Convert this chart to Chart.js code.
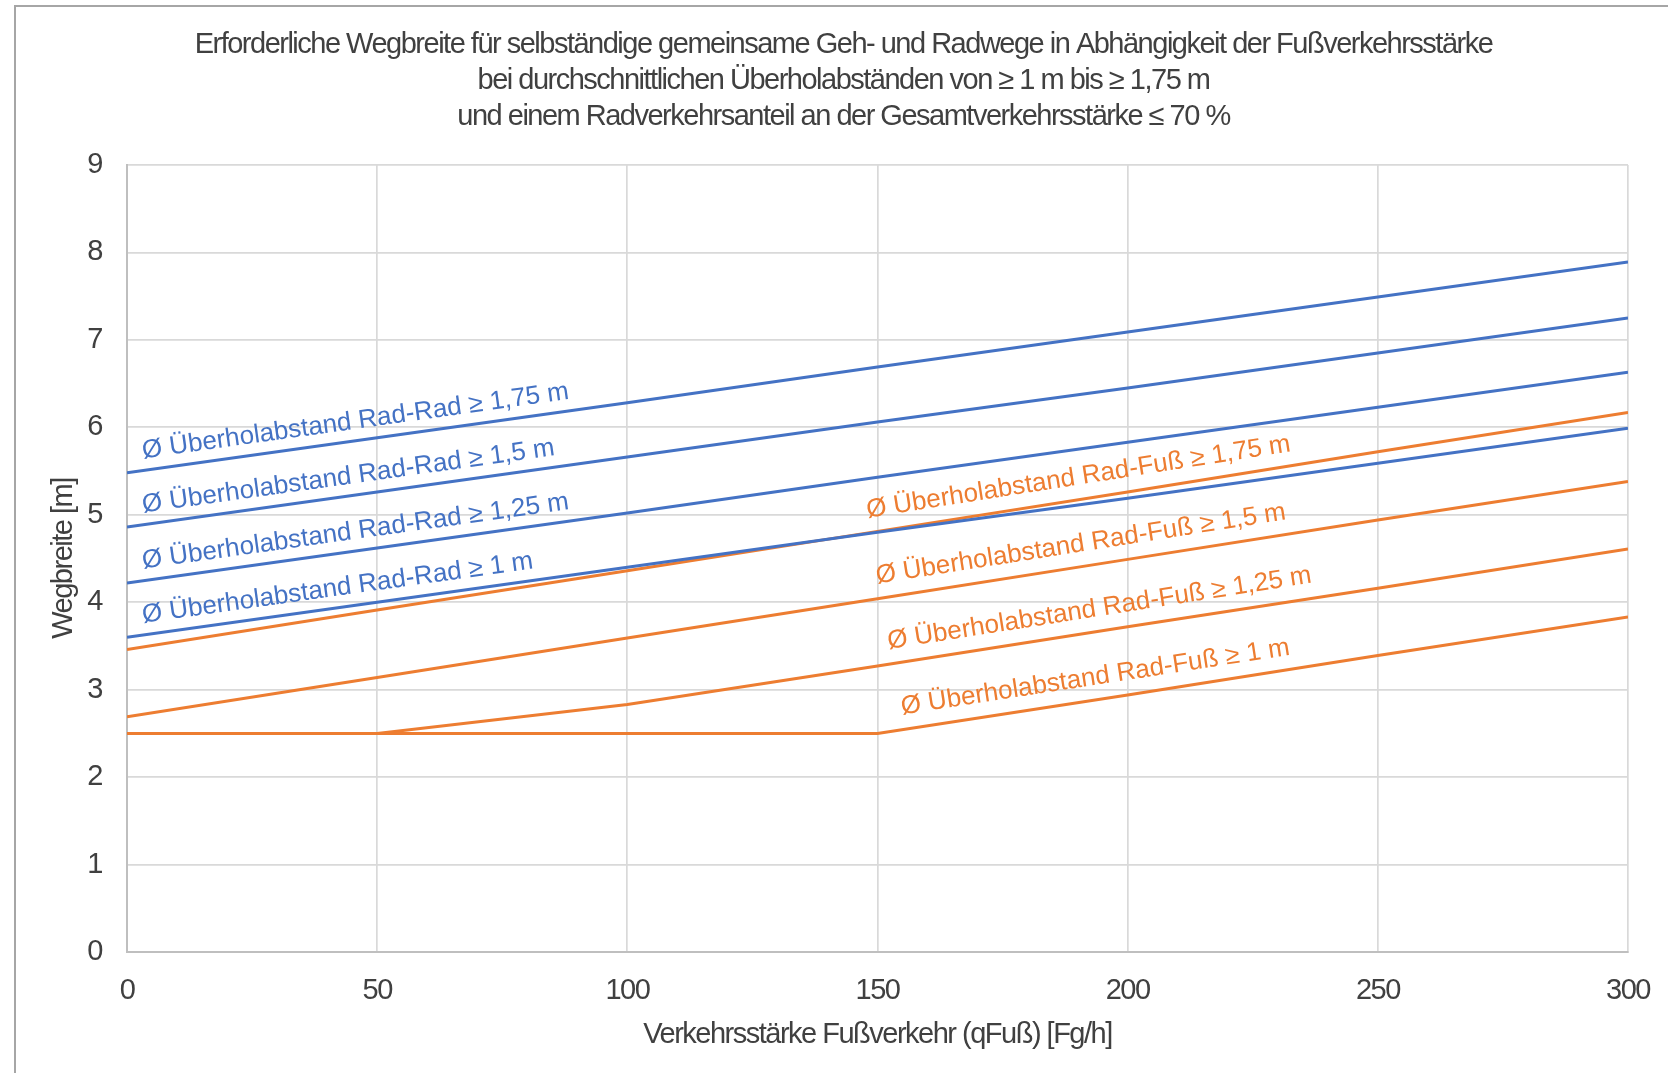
<!DOCTYPE html>
<html>
<head>
<meta charset="utf-8">
<title>Erforderliche Wegbreite</title>
<script src="https://cdn.jsdelivr.net/npm/chart.js@4/dist/chart.umd.min.js"></script>
<style>
  html, body { margin: 0; padding: 0; background: #ffffff; overflow: hidden; }
  canvas { display: block; }
</style>
</head>
<body>
<canvas id="chart" width="1668" height="1073"></canvas>
<script>
// Verkehrsstärke Fußverkehr (Fg/h)
const xValues = [0, 50, 100, 150, 200, 250, 300];

// Wegbreite [m] je durchschnittlichem Überholabstand Rad-Rad
const radRad175 = [5.48, 5.88, 6.28, 6.69, 7.09, 7.49, 7.89];
const radRad150 = [4.86, 5.26, 5.66, 6.06, 6.45, 6.85, 7.25];
const radRad125 = [4.22, 4.62, 5.02, 5.43, 5.83, 6.23, 6.63];
const radRad100 = [3.60, 4.00, 4.40, 4.80, 5.19, 5.59, 5.99];

// Wegbreite [m] je durchschnittlichem Überholabstand Rad-Fuß
const radFuss175 = [3.46, 3.91, 4.36, 4.81, 5.26, 5.72, 6.17];
const radFuss150 = [2.69, 3.14, 3.59, 4.04, 4.49, 4.94, 5.38];
const radFuss125 = [2.50, 2.50, 2.83, 3.27, 3.72, 4.16, 4.61];
const radFuss100 = [2.50, 2.50, 2.50, 2.50, 2.94, 3.39, 3.83];

const seriesNames = [
  'Ø Überholabstand Rad-Rad ≥ 1,75 m',
  'Ø Überholabstand Rad-Rad ≥ 1,5 m',
  'Ø Überholabstand Rad-Rad ≥ 1,25 m',
  'Ø Überholabstand Rad-Rad ≥ 1 m',
  'Ø Überholabstand Rad-Fuß ≥ 1,75 m',
  'Ø Überholabstand Rad-Fuß ≥ 1,5 m',
  'Ø Überholabstand Rad-Fuß ≥ 1,25 m',
  'Ø Überholabstand Rad-Fuß ≥ 1 m'
];

const xTickValues = [0, 50, 100, 150, 200, 250, 300];
const yTickValues = [0, 1, 2, 3, 4, 5, 6, 7, 8, 9];

const titleLines = [
  'Erforderliche Wegbreite für selbständige gemeinsame Geh- und Radwege in Abhängigkeit der Fußverkehrsstärke',
  'bei durchschnittlichen Überholabständen von ≥ 1 m bis ≥ 1,75 m',
  'und einem Radverkehrsanteil an der Gesamtverkehrsstärke ≤ 70 %'
];
const xAxisTitle = 'Verkehrsstärke Fußverkehr (qFuß) [Fg/h]';
const yAxisTitle = 'Wegbreite [m]';

// ---- typography ------------------------------------------------------------
const textFamily = '"Liberation Sans", Arial, sans-serif';
const textGrey = '#404040';
const tightSpacing = '-1.5px';   // narrow set for title, ticks and axis titles

const BLUE = '#4472C4';
const ORANGE = '#ED7D31';

const seriesValues = [radRad175, radRad150, radRad125, radRad100,
                      radFuss175, radFuss150, radFuss125, radFuss100];
const seriesColors = [BLUE, BLUE, BLUE, BLUE, ORANGE, ORANGE, ORANGE, ORANGE];

const datasets = seriesValues.map((vals, i) => ({
  label: seriesNames[i],
  data: vals.map((v, k) => ({ x: xValues[k], y: v })),
  borderColor: seriesColors[i],
  backgroundColor: seriesColors[i],
  borderWidth: 3,
  pointRadius: 0,
  pointHoverRadius: 0,
  tension: 0,
  fill: false
}));

// Tight letter spacing for all chart text measured and drawn by Chart.js
const spacingPlugin = {
  id: 'tightText',
  beforeUpdate(chart) { chart.ctx.letterSpacing = tightSpacing; },
  beforeLayout(chart) { chart.ctx.letterSpacing = tightSpacing; },
  beforeDraw(chart) { chart.ctx.letterSpacing = tightSpacing; }
};

// Outer frame of the chart box (left and top edges)
const framePlugin = {
  id: 'frame',
  beforeDraw(chart) {
    const ctx = chart.ctx;
    ctx.save();
    ctx.strokeStyle = '#a6a6a6';
    ctx.lineWidth = 2;
    ctx.beginPath();
    ctx.moveTo(15, chart.height);
    ctx.lineTo(15, 6);
    ctx.lineTo(chart.width, 6);
    ctx.stroke();
    ctx.restore();
  }
};

// Series names written along their lines
const lineLabelPlugin = {
  id: 'lineLabels',
  afterDatasetsDraw(chart, args, opts) {
    const { ctx } = chart;
    const xs = chart.scales.x, ys = chart.scales.y;
    opts.items.forEach(item => {
      const ds = chart.data.datasets[item.series];
      const pts = ds.data;
      let i = 0;
      while (i < pts.length - 2 && pts[i + 1].x <= item.at) i++;
      const x0 = xs.getPixelForValue(pts[i].x), y0 = ys.getPixelForValue(pts[i].y);
      const x1 = xs.getPixelForValue(pts[i + 1].x), y1 = ys.getPixelForValue(pts[i + 1].y);
      const t = (item.at - pts[i].x) / (pts[i + 1].x - pts[i].x);
      const px = x0 + t * (x1 - x0);
      const py = y0 + t * (y1 - y0);
      const ang = Math.atan2(y1 - y0, x1 - x0);
      ctx.save();
      ctx.letterSpacing = '0px';
      ctx.translate(px, py);
      ctx.rotate(ang);
      ctx.font = opts.size + 'px ' + textFamily;
      ctx.fillStyle = ds.borderColor;
      ctx.textAlign = 'left';
      ctx.textBaseline = 'alphabetic';
      ctx.fillText(ds.label, 0, -item.gap);
      ctx.restore();
    });
  }
};

const chart = new Chart(document.getElementById('chart'), {
  type: 'line',
  data: { datasets },
  plugins: [spacingPlugin, framePlugin, lineLabelPlugin],
  options: {
    responsive: false,
    devicePixelRatio: 1,
    animation: false,
    events: [],
    layout: { padding: { left: 59, right: 40, top: 0, bottom: 0 } },
    plugins: {
      legend: { display: false },
      tooltip: { enabled: false },
      title: {
        display: true,
        text: titleLines,
        color: textGrey,
        font: { family: textFamily, size: 29, weight: 'normal', lineHeight: 36 / 29 },
        padding: { top: 27, bottom: 30 }
      },
      lineLabels: {
        size: 26,
        items: [
          { series: 0, at: 3.6, gap: 12 },
          { series: 1, at: 3.6, gap: 12 },
          { series: 2, at: 3.6, gap: 12 },
          { series: 3, at: 3.6, gap: 12 },
          { series: 4, at: 148.5, gap: 15 },
          { series: 5, at: 150.4, gap: 15 },
          { series: 6, at: 152.7, gap: 15 },
          { series: 7, at: 155.4, gap: 15 }
        ]
      }
    },
    scales: {
      x: {
        type: 'linear',
        min: 0,
        max: 300,
        afterBuildTicks: s => { s.ticks = xTickValues.map(v => ({ value: v })); },
        afterFit: s => { s.height = 121; s.paddingLeft = 0; s.paddingRight = 0; },
        grid: { color: '#d9d9d9', lineWidth: 1.7, drawTicks: false },
        border: { display: true, color: '#bfbfbf', width: 2 },
        ticks: {
          color: textGrey,
          padding: 22,
          maxRotation: 0,
          font: { family: textFamily, size: 29 }
        },
        title: {
          display: true,
          text: xAxisTitle,
          color: textGrey,
          font: { family: textFamily, size: 29 },
          padding: { top: 0, bottom: 21 }
        }
      },
      y: {
        type: 'linear',
        min: 0,
        max: 9,
        afterBuildTicks: s => { s.ticks = yTickValues.map(v => ({ value: v })); },
        afterFit: s => { s.width = 68; },
        grid: { color: '#d9d9d9', lineWidth: 1.7, drawTicks: false },
        border: { display: true, color: '#bfbfbf', width: 2 },
        ticks: {
          color: textGrey,
          padding: 25,
          font: { family: textFamily, size: 29 }
        },
        title: {
          display: true,
          text: yAxisTitle,
          color: textGrey,
          font: { family: textFamily, size: 29 },
          padding: { top: -12, bottom: 0 }
        }
      }
    }
  }
});
</script>
</body>
</html>
